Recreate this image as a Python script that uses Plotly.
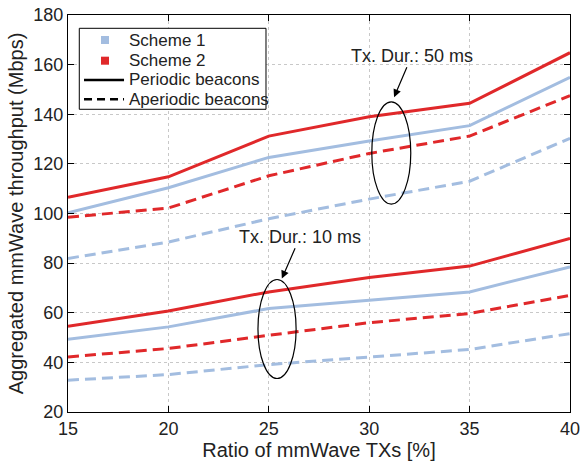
import plotly.graph_objects as go

# Ratio of mmWave transmitters [%]
ratio = [15, 20, 25, 30, 35, 40]

# Tx duration 50 ms
s1_periodic_50 = [100.3, 110.4, 122.6, 129.2, 135.4, 154.9]
s2_periodic_50 = [106.5, 114.8, 131.2, 139.0, 144.4, 164.8]
s1_aperiodic_50 = [81.9, 88.5, 97.9, 105.8, 113.0, 130.3]
s2_aperiodic_50 = [98.5, 102.2, 115.2, 124.2, 131.2, 147.5]

# Tx duration 10 ms
s1_periodic_10 = [49.3, 54.3, 61.7, 65.0, 68.4, 78.5]
s2_periodic_10 = [54.6, 60.7, 68.4, 74.2, 78.8, 89.9]
s1_aperiodic_10 = [32.8, 35.1, 39.1, 42.2, 45.2, 51.6]
s2_aperiodic_10 = [42.2, 45.6, 50.9, 56.0, 59.7, 67.0]

y_ticks = [20, 40, 60, 80, 100, 120, 140, 160, 180]
x_ticks = [15, 20, 25, 30, 35, 40]

legend_labels = ["Scheme 1", "Scheme 2", "Periodic beacons", "Aperiodic beacons"]

BLUE = "#a3bde0"
RED = "#e0282a"
DASH = "11px,6px"
FONT = "Liberation Sans, Arial, Helvetica, sans-serif"
TXT = "#222"

fig = go.Figure()

series = [
    (s1_aperiodic_50, BLUE, DASH),
    (s2_aperiodic_50, RED, DASH),
    (s1_periodic_50, BLUE, "solid"),
    (s2_periodic_50, RED, "solid"),
    (s1_aperiodic_10, BLUE, DASH),
    (s2_aperiodic_10, RED, DASH),
    (s1_periodic_10, BLUE, "solid"),
    (s2_periodic_10, RED, "solid"),
]
for vals, col, dash in series:
    fig.add_trace(go.Scatter(
        x=ratio, y=vals, mode="lines",
        line=dict(color=col, width=3, dash=dash),
        showlegend=False, hoverinfo="skip",
    ))

# Ellipses grouping the curves for each Tx duration
fig.add_shape(type="circle", xref="x", yref="y", x0=30.13, x1=32.07, y0=103.8, y1=145.0,
              line=dict(color="black", width=1.2))
fig.add_shape(type="circle", xref="x", yref="y", x0=24.46, x1=26.36, y0=33.5, y1=73.4,
              line=dict(color="black", width=1.2))

ann_font = dict(family=FONT, size=18, color=TXT)
fig.add_annotation(x=31.24, y=146.9, ax=32.12, ay=163.6, axref="x", ayref="y",
                   text="Tx. Dur.: 50 ms", showarrow=True, arrowhead=2, arrowsize=1.3,
                   arrowwidth=1.2, arrowcolor="black", font=ann_font, standoff=0)
fig.add_annotation(x=25.65, y=73.8, ax=26.56, ay=90.6, axref="x", ayref="y",
                   text="Tx. Dur.: 10 ms", showarrow=True, arrowhead=2, arrowsize=1.3,
                   arrowwidth=1.2, arrowcolor="black", font=ann_font, standoff=0)

# Compact legend box drawn in axis-domain coordinates
fig.add_shape(type="rect", xref="x domain", yref="y domain",
              x0=0.0225, x1=0.3944, y0=0.7625, y1=0.9665,
              line=dict(color="black", width=1), fillcolor="white", layer="above")
row_y = [0.937, 0.8849, 0.8363, 0.7877]
sq_dx, sq_dy = 0.008, 0.0101
for yy, col in zip(row_y[:2], [BLUE, RED]):
    fig.add_shape(type="rect", xref="x domain", yref="y domain",
                  x0=0.0737 - sq_dx, x1=0.0737 + sq_dx, y0=yy - sq_dy, y1=yy + sq_dy,
                  line=dict(width=0), fillcolor=col, layer="above")
for yy, dash in zip(row_y[2:], ["solid", "8px,5px"]):
    fig.add_shape(type="line", xref="x domain", yref="y domain",
                  x0=0.0319, x1=0.1116, y0=yy, y1=yy,
                  line=dict(color="black", width=2.5, dash=dash), layer="above")
for yy, lab in zip(row_y, legend_labels):
    fig.add_annotation(xref="x domain", yref="y domain", x=0.1175, y=yy,
                       xanchor="left", yanchor="middle", text=lab, showarrow=False,
                       font=dict(family=FONT, size=17, color=TXT))

axis_common = dict(
    showline=True, linecolor="black", linewidth=1, mirror="ticks",
    ticks="inside", ticklen=6, tickcolor="black", tickwidth=1,
    showgrid=True, gridcolor="#c8c8c8", griddash="dot", gridwidth=1,
    zeroline=False, automargin=False, ticklabeloverflow="allow",
    tickfont=dict(family=FONT, size=18, color=TXT),
)

fig.update_xaxes(
    range=[15, 40], tickvals=x_ticks,
    title=dict(text="Ratio of mmWave TXs [%]", font=dict(family=FONT, size=20, color=TXT),
               standoff=2),
    **axis_common,
)
fig.update_yaxes(
    range=[20, 180], tickvals=y_ticks,
    title=dict(text="Aggregated mmWave throughput (Mbps)",
               font=dict(family=FONT, size=20, color=TXT), standoff=4),
    **axis_common,
)

fig.update_layout(
    width=580, height=465,
    margin=dict(l=68, r=10, t=15, b=53),
    plot_bgcolor="white", paper_bgcolor="white",
    font=dict(family=FONT, color=TXT),
    showlegend=False,
)

fig.write_html("out.html")
